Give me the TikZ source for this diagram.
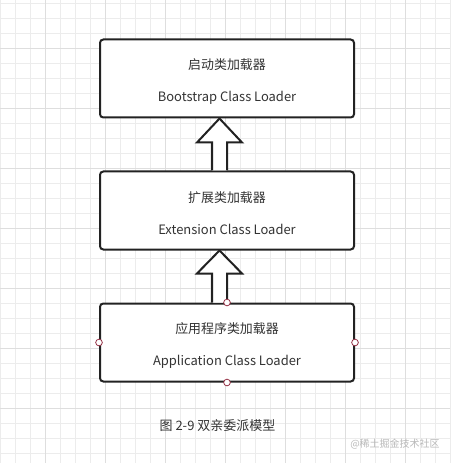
\documentclass[tikz,border=0pt]{standalone}
\usepackage{fontspec}
\setmainfont{Noto Sans CJK SC}
\usepackage{tikz}
\usetikzlibrary{calc,positioning}
\definecolor{boxline}{RGB}{34,34,34}
\definecolor{textgray}{RGB}{51,51,51}
\definecolor{gridminor}{RGB}{236,236,236}
\definecolor{gridmajor}{RGB}{222,222,222}
\definecolor{handle}{RGB}{150,50,70}
\definecolor{markgray}{RGB}{185,185,185}
\newcommand{\toppad}{\rule{0pt}{12pt}}

\begin{document}
\begin{tikzpicture}[x=0.75pt,y=-0.75pt,
  loaderbox/.style={draw=boxline,line width=1.5pt,rounded corners=2.5pt,fill=white,
    minimum width=190.5pt,minimum height=58.5pt,align=center,text=textgray,
    font=\fontsize{9.7}{24}\selectfont},
  blockarrow/.style={draw=boxline,line width=1.5pt,fill=white,line join=miter},
  handledot/.style={circle,draw=handle,fill=white,line width=0.6pt,inner sep=0pt,minimum size=5pt}]
  \useasboundingbox[fill=white] (0,0) rectangle (450,463);
  % background grid
  \foreach \gx in {0,15,...,450} \draw[gridminor,line width=0.6pt] (\gx,0) -- (\gx,463);
  \foreach \gy in {3,18,...,463} \draw[gridminor,line width=0.6pt] (0,\gy) -- (450,\gy);
  \foreach \gx in {45,105,...,405} \draw[gridmajor,line width=0.6pt] (\gx,0) -- (\gx,463);
  \foreach \gy in {48,108,...,408} \draw[gridmajor,line width=0.6pt] (0,\gy) -- (450,\gy);

  % the three loaders
  \node[loaderbox] (boot) at (227,78.5) {\toppad 启动类加载器\\Bootstrap Class Loader};
  \node[loaderbox,below=39pt of boot] (ext) {\toppad 扩展类加载器\\Extension Class Loader};
  \node[loaderbox,below=39pt of ext] (app) {\toppad 应用程序类加载器\\Application Class Loader};

  % parent delegation arrows
  \draw[blockarrow] ($(ext.north)+(-15,0)$) -- ++(0,-28) -- ++(-15,0)
    -- ($(boot.south)+(-7.5,0)$) -- ++(22.5,24) -- ++(-15,0) -- (ext.north);
  \draw[blockarrow] ($(app.north)+(-15,0)$) -- ++(0,-29) -- ++(-15,0)
    -- ($(ext.south)+(-7.5,0)$) -- ++(22.5,23) -- ++(-15,0) -- (app.north);

  % selection handles
  \foreach \side in {north,south,west,east}
    \node[handledot] (h-\side) at (app.\side) {};

  \node[text=textgray,font=\fontsize{9.75}{12}\selectfont] (caption) at (217.5,426) {图 2-9 双亲委派模型};
  \node[text=markgray,font=\fontsize{7.5}{9}\selectfont] (mark) at (395,444) {@稀土掘金技术社区};
\end{tikzpicture}
\end{document}
